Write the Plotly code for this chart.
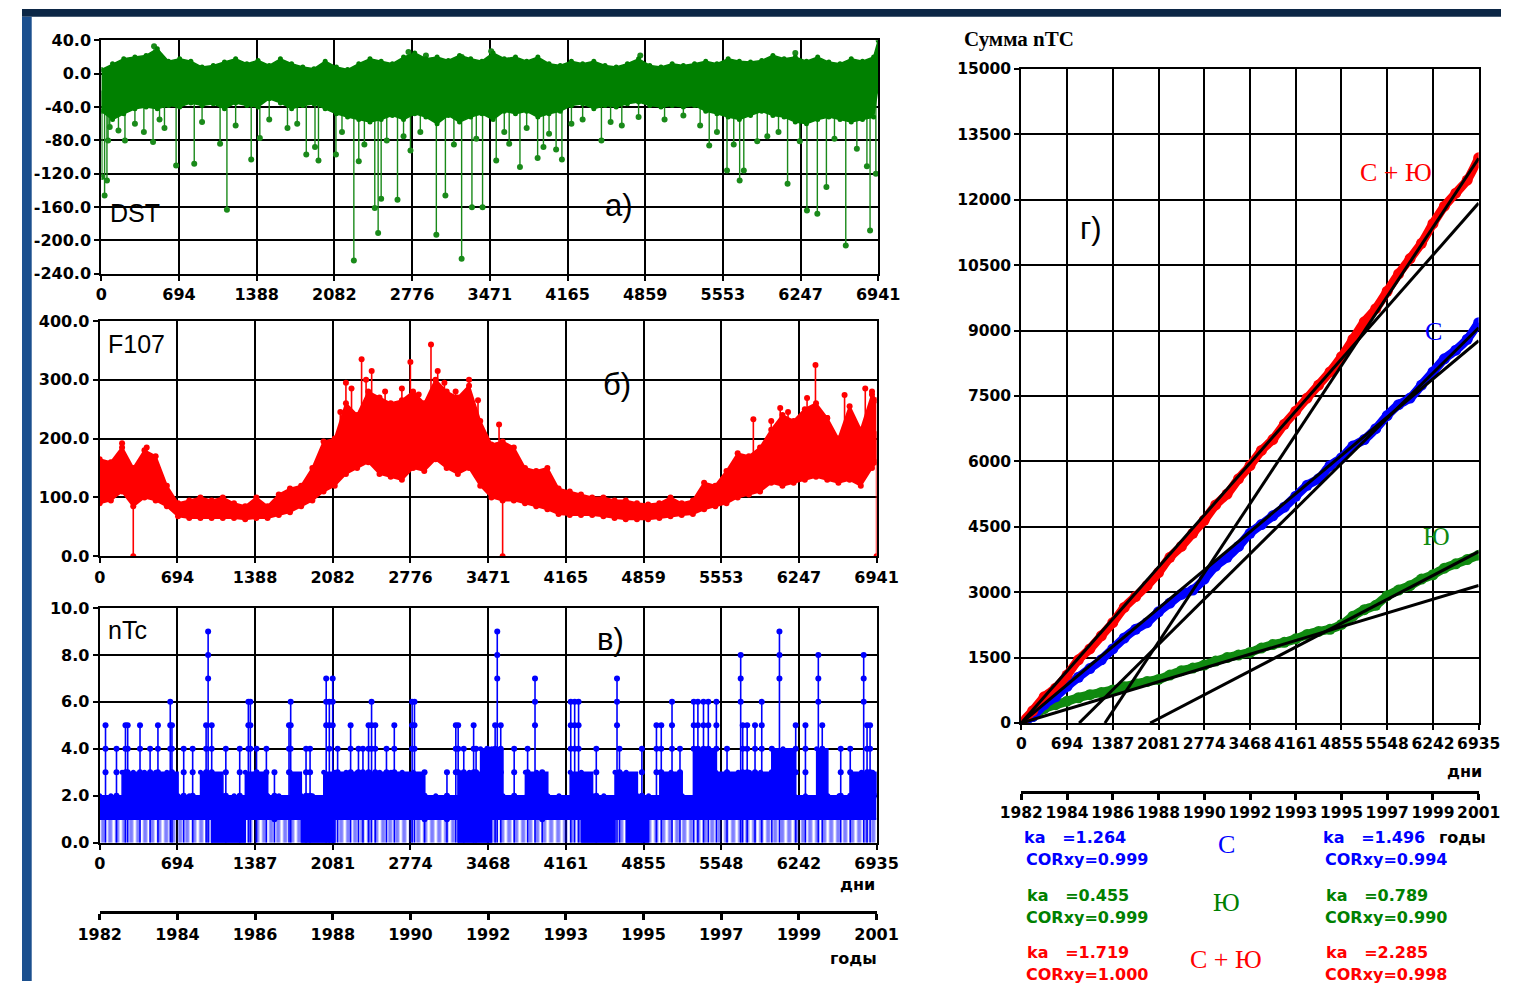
import numpy as np
import plotly.graph_objects as go

W, H = 1523, 991

# ---------------- tick labels ----------------
day_ticks_ab = [0, 694, 1388, 2082, 2776, 3471, 4165, 4859, 5553, 6247, 6941]
day_ticks_c = [0, 694, 1387, 2081, 2774, 3468, 4161, 4855, 5548, 6242, 6935]
year_labels = ['1982', '1984', '1986', '1988', '1990', '1992', '1993', '1995', '1997', '1999', '2001']
dst_yticks = [-240, -200, -160, -120, -80, -40, 0, 40]
f107_yticks = [0, 100, 200, 300, 400]
ntc_yticks = [0, 2, 4, 6, 8, 10]
sum_yticks = [0, 1500, 3000, 4500, 6000, 7500, 9000, 10500, 12000, 13500, 15000]

# ---------------- a) DST (daily, read as envelope of dense band + spikes) ----------------
band_days = list(range(0, 7000, 100)) + [6941]
dst_hi = [5, 12, 18, 20, 22, 30, 15, 18, 15, 8,
          10, 14, 18, 12, 16, 10, 18, 12, 8, 6,
          15, 8, 5, 12, 18, 15, 12, 20, 25, 18,
          20, 16, 22, 18, 15, 25, 18, 20, 15, 20,
          12, 10, 15, 12, 15, 10, 8, 12, 18, 10,
          8, 12, 10, 12, 15, 12, 18, 15, 14, 16,
          22, 18, 20, 15, 20, 14, 12, 18, 15, 20,
          40]
dst_lo = [-45, -55, -48, -42, -40, -42, -38, -40, -35, -38,
          -36, -42, -35, -38, -40, -30, -35, -42, -38, -36,
          -42, -48, -52, -55, -58, -55, -50, -55, -48, -52,
          -60, -50, -58, -52, -48, -55, -45, -48, -45, -52,
          -48, -45, -38, -36, -42, -38, -40, -36, -34, -38,
          -40, -38, -40, -38, -45, -48, -52, -55, -50, -45,
          -50, -52, -58, -60, -55, -52, -55, -58, -55, -52,
          -15]
dst_spike_days = [5, 29, 50, 60, 75, 153, 211, 300, 380, 462, 520, 564, 668, 830, 900, 1061, 1122,
                  1200, 1339, 1416, 1500, 1663, 1750, 1831, 1909, 1940, 2096, 2150, 2256, 2300,
                  2350, 2443, 2473, 2500, 2550, 2646, 2700, 2762, 2850, 2993, 3074, 3150, 3219,
                  3311, 3350, 3406, 3528, 3600, 3644, 3740, 3800, 3898, 3950, 4000, 4063, 4115,
                  4200, 4300, 4468, 4550, 4650, 4800, 5032, 5200, 5350, 5431, 5500, 5590, 5650,
                  5703, 5740, 5860, 5950, 6050, 6131, 6240, 6304, 6397, 6478, 6550, 6651, 6750,
                  6840, 6868, 6920,
                  471, 500, 2744, 2900, 3220, 3483, 4815, 6200, 6941]
dst_spike_vals = [-124, -146, -128, -80, -64, -68, -80, -60, -70, -82, -55, -65, -110, -108, -58, -84, -163,
                  -62, -103, -77, -55, -65, -60, -97, -88, -104, -97, -70, -224, -105,
                  -85, -161, -191, -150, -80, -151, -75, -92, -70, -193, -146, -85, -222,
                  -160, -78, -160, -104, -70, -84, -112, -65, -101, -88, -72, -91, -103,
                  -60, -55, -80, -58, -62, -52, -55, -50, -62, -86, -70, -116, -85,
                  -128, -116, -81, -75, -70, -132, -81, -164, -168, -136, -78, -206, -90,
                  -111, -188, -120,
                  33, 26, 26, 22, 20, 27, 22, 25, 42]

# ---------------- б) F10.7 ----------------
f107_hi = [165, 160, 185, 150, 180, 170, 120, 90, 95, 100,
           95, 100, 90, 85, 100, 85, 105, 115, 120, 150,
           195, 200, 260, 240, 280, 270, 260, 265, 280, 260,
           300, 280, 270, 290, 230, 190, 195, 185, 150, 145,
           150, 115, 110, 105, 100, 100, 95, 95, 90, 88,
           90, 100, 90, 95, 125, 120, 145, 175, 170, 185,
           215, 240, 230, 250, 260, 235, 200, 255, 215, 275,
           265]
f107_lo = [90, 95, 110, 85, 100, 95, 85, 68, 65, 65,
           65, 65, 65, 63, 65, 65, 70, 75, 85, 95,
           110, 120, 140, 150, 160, 140, 135, 130, 150, 145,
           165, 150, 140, 150, 120, 100, 95, 95, 90, 85,
           80, 72, 70, 70, 70, 68, 65, 63, 63, 63,
           65, 68, 70, 72, 80, 85, 90, 100, 105, 110,
           125, 120, 125, 130, 135, 130, 125, 130, 120, 150,
           160]
f107_spike_days = [200, 420, 2200, 2340, 2430, 2776, 2960, 3300, 3568, 5840, 6080, 6320, 6395, 6655, 6840,
                   2150, 2250, 2380, 2550, 2700, 2850, 3020, 3080, 3180, 3380, 6000, 6150, 6500, 6900,
                   300, 3600, 6941]
f107_spike_vals = [192, 185, 295, 335, 315, 330, 360, 300, 224, 233, 252, 269, 325, 274, 285,
                   245, 285, 300, 280, 285, 275, 315, 295, 280, 265, 230, 245, 235, 280,
                   0, 0, 0]

# ---------------- в) nTc ----------------
ntc_band_days = list(range(0, 7000, 100)) + [6935]
ntc_hi = [2, 2, 3, 3, 3, 3, 3, 2, 2, 3,
          3, 2, 2, 3, 3, 2, 2, 3, 2, 2,
          3, 3, 3, 3, 3, 3, 3, 3, 3, 2,
          2, 2, 3, 3, 4, 4, 2, 2, 3, 3,
          2, 2, 3, 3, 2, 2, 3, 3, 2, 2,
          3, 3, 2, 4, 4, 3, 3, 3, 3, 3,
          4, 4, 2, 2, 4, 2, 2, 3, 3, 3,
          2]
ntc_lo = [1, 1, 1, 1, 1, 1, 1, 1, 1, 1,
          0, 0, 0, 1, 1, 1, 1, 1, 0, 0,
          0, 1, 1, 1, 1, 1, 1, 1, 1, 1,
          1, 1, 0, 0, 0, 1, 1, 1, 1, 1,
          1, 1, 1, 0, 0, 0, 1, 0, 0, 1,
          1, 1, 1, 1, 1, 1, 1, 1, 1, 1,
          1, 1, 1, 1, 1, 1, 1, 1, 1, 1,
          1]
ntc_spike_days = [52, 150, 230, 250, 360, 450, 520, 630, 645, 750, 830, 950, 968, 1000, 1126, 1250, 1327,
                  1345, 1400, 1488, 1560, 1690, 1705, 1842, 1878, 2022, 2050, 2080, 2124, 2240, 2310,
                  2350, 2400, 2427, 2460, 2560, 2630, 2789, 2810, 2900, 3100, 3179, 3200, 3250, 3338,
                  3360, 3460, 3530, 3549, 3580, 3700, 3820, 3886, 3950, 4205, 4240, 4275, 4433, 4618,
                  4640, 4840, 4970, 5013, 5109, 5180, 5303, 5340, 5390, 5433, 5505, 5600, 5722, 5740,
                  5780, 5850, 5910, 6000, 6068, 6213, 6300, 6415, 6450, 6615, 6700, 6820, 6850, 6877]
ntc_spike_vals = [5, 4, 5, 5, 5, 4, 5, 6, 5, 4, 4, 5, 9, 5, 4, 4, 6,
                  6, 4, 4, 3, 5, 6, 4, 4, 7, 6, 7, 4, 5, 4,
                  4, 5, 6, 5, 4, 5, 6, 6, 3, 3, 5, 5, 4, 5,
                  4, 4, 5, 9, 5, 4, 4, 7, 3, 6, 6, 6, 4, 7,
                  4, 4, 5, 5, 6, 4, 6, 6, 6, 6, 6, 4, 8, 5,
                  5, 5, 6, 4, 9, 5, 5, 8, 5, 4, 4, 8, 5, 5]

# ---------------- г) cumulative sums ----------------
cum_days = [0, 173, 347, 520, 694, 867, 1040, 1214, 1387, 1561, 1734, 1907, 2081, 2254, 2427, 2601,
            2774, 2947, 3121, 3294, 3468, 3641, 3814, 3988, 4161, 4334, 4508, 4681, 4855, 5028,
            5201, 5375, 5548, 5721, 5895, 6068, 6242, 6415, 6588, 6762, 6935]
cum_north = [0, 150, 420, 600, 840, 1050, 1250, 1450, 1700, 1950, 2150, 2300, 2550, 2750, 2950, 3050,
             3300, 3600, 3800, 4050, 4350, 4550, 4750, 4950, 5200, 5450, 5600, 5900, 6080, 6350,
             6500, 6750, 7050, 7300, 7450, 7750, 8050, 8350, 8550, 8800, 9180]
cum_south = [0, 150, 330, 420, 500, 580, 650, 700, 760, 830, 900, 950, 1000, 1100, 1200, 1260,
             1330, 1420, 1500, 1560, 1620, 1720, 1800, 1850, 1930, 2030, 2100, 2150, 2260, 2450,
             2600, 2700, 2920, 3050, 3150, 3300, 3400, 3550, 3650, 3750, 3850]
cum_total = [0, 280, 600, 800, 1100, 1450, 1700, 2000, 2300, 2650, 2900, 3150, 3450, 3800, 4050, 4350,
             4650, 5000, 5250, 5600, 5900, 6250, 6500, 6850, 7150, 7450, 7750, 8050, 8400, 8800,
             9200, 9500, 9900, 10300, 10650, 11000, 11450, 11850, 12150, 12450, 12960]

series_names = ['С', 'Ю', 'С + Ю']
ka_left = [1.264, 0.455, 1.719]
cor_left = [0.999, 0.999, 1.000]
ka_right = [1.496, 0.789, 2.285]
cor_right = [0.994, 0.990, 0.998]
# x-intercepts (days) of the regression lines
x0_left = [0, 0, 0]
x0_right = [877, 1954, 1268]

# ---------------- styling ----------------
GREEN = '#008000'
RED = '#ff0000'
BLUE = '#0000ff'
TF = dict(family='DejaVu Sans', size=16, color='#000', weight='bold')
TF_R = dict(family='DejaVu Sans', size=15.5, color='#000', weight='bold')


def px(x):
    return x / W


def py(y):
    return 1 - y / H


def axis(domain, rng, tickvals, ticktext, anchor, font=TF):
    return dict(domain=domain, range=rng, tickvals=tickvals, ticktext=ticktext, showgrid=True,
                gridcolor='#000', gridwidth=1.6, showline=True, linecolor='#000', linewidth=2.2,
                mirror=True, ticks='outside', ticklen=5, tickwidth=2, tickcolor='#000',
                zeroline=False, tickfont=font, fixedrange=True, tickangle=0, anchor=anchor)


def year_axis(domain, anchor, font=TF):
    return dict(domain=domain, range=[0, 6935], tickvals=day_ticks_c, ticktext=year_labels,
                showline=True, linecolor='#000', linewidth=3, ticks='outside', ticklen=6,
                tickwidth=2.5, tickcolor='#000', showgrid=False, zeroline=False, tickfont=font,
                anchor=anchor, fixedrange=True, tickangle=0)


fig = go.Figure()


def add_band(days, lo, hi, color, xa, ya, msize, lw=1.5):
    fig.add_trace(go.Scatter(x=days, y=lo, mode='lines+markers', line=dict(color=color, width=lw),
                             marker=dict(size=msize, color=color), xaxis=xa, yaxis=ya,
                             showlegend=False, hoverinfo='skip'))
    fig.add_trace(go.Scatter(x=days, y=hi, mode='lines+markers', fill='tonexty', fillcolor=color,
                             line=dict(color=color, width=lw), marker=dict(size=msize, color=color),
                             xaxis=xa, yaxis=ya, showlegend=False, hoverinfo='skip'))


def add_spikes(days, vals, base_days, lo, hi, color, xa, ya, msize, lw):
    xs, ys = [], []
    blo = np.interp(days, base_days, lo)
    bhi = np.interp(days, base_days, hi)
    for d, v, l, h in zip(days, vals, blo, bhi):
        base = (l + h) / 2
        xs += [d, d, None]
        ys += [base, v, None]
    fig.add_trace(go.Scatter(x=xs, y=ys, mode='lines', line=dict(color=color, width=lw),
                             xaxis=xa, yaxis=ya, showlegend=False, hoverinfo='skip'))
    fig.add_trace(go.Scatter(x=days, y=vals, mode='markers', marker=dict(size=msize, color=color),
                             xaxis=xa, yaxis=ya, showlegend=False, hoverinfo='skip'))


# a) DST
add_spikes(dst_spike_days, dst_spike_vals, band_days, dst_lo, dst_hi, '#1a8a1a', 'x', 'y', 6, 1.4)
add_band(band_days, dst_lo, dst_hi, GREEN, 'x', 'y', 5)

# б) F107
add_spikes(f107_spike_days, f107_spike_vals, band_days, f107_lo, f107_hi, RED, 'x2', 'y2', 6, 1.6)
add_band(band_days, f107_lo, f107_hi, RED, 'x2', 'y2', 6, 2)

# в) nTc
xs, ys, mx, my = [], [], [], []
for d, v in zip(ntc_spike_days, ntc_spike_vals):
    xs += [d, d, None]
    ys += [0, v, None]
    for lev in range(v, max(v - 3, 0), -1):
        mx.append(d)
        my.append(lev)
fig.add_trace(go.Scatter(x=ntc_band_days, y=ntc_lo, mode='lines', line=dict(color=BLUE, width=1.5, shape='hv'),
                         fill='tozeroy', fillcolor='rgba(0,0,255,0)',
                         fillpattern=dict(shape='|', size=7, solidity=0.6, fgcolor=BLUE,
                                          bgcolor='rgba(255,255,255,0)'),
                         xaxis='x3', yaxis='y3', showlegend=False, hoverinfo='skip'))
fig.add_trace(go.Scatter(x=ntc_band_days, y=ntc_hi, mode='lines+markers', fill='tonexty', fillcolor=BLUE,
                         line=dict(color=BLUE, width=1.5, shape='hv'), marker=dict(size=5, color=BLUE),
                         xaxis='x3', yaxis='y3', showlegend=False, hoverinfo='skip'))
fig.add_trace(go.Scatter(x=xs, y=ys, mode='lines', line=dict(color=BLUE, width=1.6),
                         xaxis='x3', yaxis='y3', showlegend=False, hoverinfo='skip'))
fig.add_trace(go.Scatter(x=mx, y=my, mode='markers', marker=dict(size=6, color=BLUE),
                         xaxis='x3', yaxis='y3', showlegend=False, hoverinfo='skip'))

# year axis helpers (invisible anchors)
for xa, ya in (('x4', 'y4'), ('x6', 'y6')):
    fig.add_trace(go.Scatter(x=[None], y=[None], mode='markers', xaxis=xa, yaxis=ya,
                             showlegend=False, hoverinfo='skip'))

# г) cumulative sums
for vals, col in ((cum_south, '#108a10'), (cum_north, BLUE), (cum_total, RED)):
    fig.add_trace(go.Scatter(x=cum_days, y=vals, mode='lines+markers',
                             line=dict(color=col, width=9, shape='spline', smoothing=0.7),
                             marker=dict(size=11, color=col),
                             xaxis='x5', yaxis='y5', showlegend=False, hoverinfo='skip'))
end_day = cum_days[-1]
for ka, x0 in list(zip(ka_left, x0_left)) + list(zip(ka_right, x0_right)):
    fig.add_trace(go.Scatter(x=[x0, end_day], y=[0, ka * (end_day - x0)], mode='lines',
                             line=dict(color='#000', width=3),
                             xaxis='x5', yaxis='y5', showlegend=False, hoverinfo='skip'))

# ---------------- layout ----------------
fmt1 = lambda v: f'{v:.1f}'
layout = dict(
    width=W, height=H, margin=dict(l=0, r=0, t=0, b=0),
    paper_bgcolor='white', plot_bgcolor='white', showlegend=False,
    xaxis=axis([px(81.7), px(881.7)], [0, 6941], day_ticks_ab, [str(t) for t in day_ticks_ab], 'y'),
    yaxis=axis([py(270), py(32)], [-240, 40], dst_yticks, [fmt1(v) for v in dst_yticks], 'x'),
    xaxis2=axis([px(80), px(880)], [0, 6941], day_ticks_ab, [str(t) for t in day_ticks_ab], 'y2'),
    yaxis2=axis([py(558), py(318)], [0, 400], f107_yticks, [fmt1(v) for v in f107_yticks], 'x2'),
    xaxis3=axis([px(80), px(880)], [0, 6935], day_ticks_c, [str(t) for t in day_ticks_c], 'y3'),
    yaxis3=axis([py(850), py(610.7)], [0, 10], ntc_yticks, [fmt1(v) for v in ntc_yticks], 'x3'),
    xaxis4=year_axis([px(80), px(880)], 'y4'),
    yaxis4=dict(domain=[py(920), py(918)], visible=False, anchor='x4', fixedrange=True),
    xaxis5=axis([px(1029), px(1500)], [0, 6935], day_ticks_c, [str(t) for t in day_ticks_c], 'y5', TF_R),
    yaxis5=axis([py(728), py(61)], [0, 15000], sum_yticks, [str(t) for t in sum_yticks], 'x5', TF_R),
    xaxis6=year_axis([px(1029), px(1500)], 'y6', TF_R),
    yaxis6=dict(domain=[py(797), py(795)], visible=False, anchor='x6', fixedrange=True),
)
fig.update_layout(**layout)

shapes = [
    dict(type='rect', xref='paper', yref='paper', x0=0, x1=1, y0=py(8), y1=1,
         fillcolor='#0c2746', line=dict(width=0), layer='below'),
    dict(type='rect', xref='paper', yref='paper', x0=0, x1=px(10), y0=0, y1=py(8),
         fillcolor='#1b4f8e', line=dict(width=0), layer='below'),
    # white boxes behind curve labels in panel г
    dict(type='rect', xref='paper', yref='paper', x0=px(1378), x1=px(1455), y0=py(186), y1=py(129),
         fillcolor='white', line=dict(width=0), layer='between'),
    dict(type='rect', xref='paper', yref='paper', x0=px(1410), x1=px(1482), y0=py(350), y1=py(306),
         fillcolor='white', line=dict(width=0), layer='between'),
    dict(type='rect', xref='paper', yref='paper', x0=px(1412), x1=px(1490), y0=py(560), y1=py(515),
         fillcolor='white', line=dict(width=0), layer='between'),
]
fig.update_layout(shapes=shapes)

ann = []


def text(x, y, s, size=16, color='#000', family='DejaVu Sans', weight='bold', xanchor='left'):
    ann.append(dict(x=px(x), y=py(y), xref='paper', yref='paper', text=s, showarrow=False,
                    xanchor=xanchor, yanchor='middle',
                    font=dict(family=family, size=size, color=color, weight=weight)))


SANS = 'Liberation Sans'
SERIF = 'Liberation Serif'
text(89, 208, 'DST', 25, family=SANS, weight='normal')
text(598, 200, 'а)', 31, family=SANS, weight='normal')
text(87, 342, 'F107', 25, family=SANS, weight='normal')
text(596, 383, 'б)', 31, family=SANS, weight='normal')
text(86, 633, 'nTc', 25, family=SANS, weight='normal')
text(590, 643, 'в)', 31, family=SANS, weight='normal')
text(1087, 224, 'г)', 31, family=SANS, weight='normal')
text(968, 31, 'Сумма nTC', 21, family=SERIF, weight='bold')
text(1415, 167, 'С + Ю', 26, color=RED, family=SERIF, weight='normal', xanchor='center')
text(1454, 329, 'С', 26, color=BLUE, family=SERIF, weight='normal', xanchor='center')
text(1457, 538, 'Ю', 26, color='#108a10', family=SERIF, weight='normal', xanchor='center')
text(880, 893, 'дни', 16, xanchor='right')
text(882, 968, 'годы', 16, xanchor='right')
text(1506, 777, 'дни', 16, xanchor='right')
text(1510, 845, 'годы', 16, xanchor='right')

row_y = [845, 904, 962]
row_cols = [BLUE, GREEN, RED]
for i in range(3):
    y0 = row_y[i]
    c = row_cols[i]
    text(1030 + (0 if i == 0 else 3), y0, 'ka\u00a0\u00a0\u00a0=' + f'{ka_left[i]:.3f}', 16, color=c)
    text(1032, y0 + 22, 'CORxy=' + f'{cor_left[i]:.3f}', 16, color=c)
    text(1338 + (0 if i == 0 else 3), y0, 'ka\u00a0\u00a0\u00a0=' + f'{ka_right[i]:.3f}', 16, color=c)
    text(1340, y0 + 22, 'CORxy=' + f'{cor_right[i]:.3f}', 16, color=c)
    text(1240, y0 + 7, series_names[i], 26, color=c, family=SERIF, weight='normal', xanchor='center')

fig.update_layout(annotations=ann)

fig.write_html("out.html", config={'displayModeBar': False},
               post_script="document.body.style.margin='0';document.body.style.overflow='hidden';")
